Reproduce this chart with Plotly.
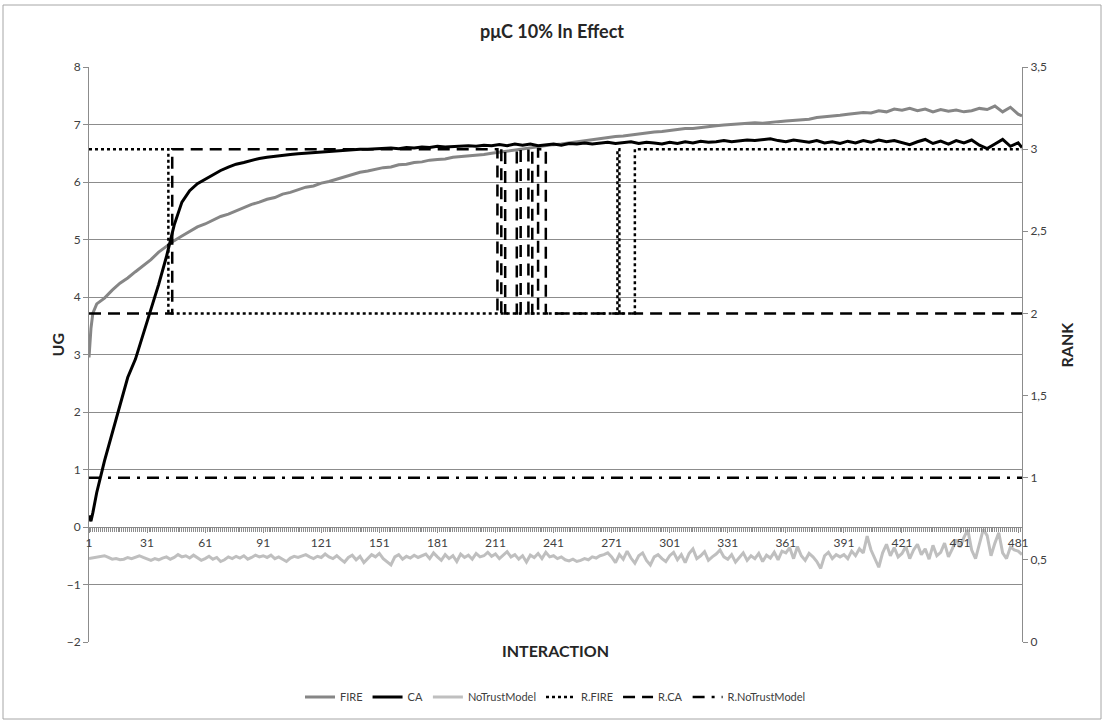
import plotly.graph_objects as go

# ---------------- data ----------------
title_text = "pμC 10% In Effect"
series_names = ["FIRE", "CA", "NoTrustModel", "R.FIRE", "R.CA", "R.NoTrustModel"]

# sample positions (interaction index) for FIRE and CA
ug_x = [1, 2, 3, 4] + list(range(5, 482, 4)) + [483]

fire_ug = [2.95, 3.45, 3.72, 3.82,
    3.88, 3.98, 4.12, 4.24, 4.33, 4.44, 4.55, 4.65, 4.78, 4.88,
    4.98, 5.06, 5.14, 5.22, 5.27, 5.33, 5.40, 5.44, 5.50, 5.56,
    5.61, 5.65, 5.70, 5.73, 5.79, 5.82, 5.86, 5.91, 5.93, 5.98,
    6.01, 6.05, 6.09, 6.12, 6.17, 6.19, 6.22, 6.25, 6.26, 6.30,
    6.31, 6.34, 6.35, 6.38, 6.39, 6.40, 6.43, 6.44, 6.45, 6.47,
    6.48, 6.50, 6.52, 6.54, 6.55, 6.58, 6.60, 6.61, 6.63, 6.65,
    6.66, 6.68, 6.70, 6.72, 6.73, 6.76, 6.77, 6.79, 6.80, 6.82,
    6.84, 6.85, 6.87, 6.88, 6.90, 6.91, 6.93, 6.93, 6.95, 6.96,
    6.98, 6.99, 7.00, 7.01, 7.01, 7.03, 7.02, 7.04, 7.05, 7.06,
    7.07, 7.09, 7.09, 7.12, 7.13, 7.15, 7.16, 7.18, 7.19, 7.21,
    7.20, 7.24, 7.22, 7.27, 7.25, 7.28, 7.24, 7.27, 7.22, 7.26,
    7.23, 7.25, 7.22, 7.24, 7.28, 7.26, 7.32, 7.22, 7.30, 7.18,
    7.15]

ca_ug = [0.20, 0.10, 0.25, 0.45,
    0.60, 1.15, 1.62, 2.12, 2.60, 2.92, 3.35, 3.78, 4.22, 4.70,
    5.25, 5.65, 5.85, 5.97, 6.05, 6.12, 6.20, 6.26, 6.31, 6.34,
    6.38, 6.41, 6.43, 6.45, 6.46, 6.48, 6.49, 6.50, 6.52, 6.53,
    6.54, 6.55, 6.55, 6.56, 6.57, 6.57, 6.58, 6.58, 6.59, 6.58,
    6.60, 6.59, 6.61, 6.60, 6.62, 6.61, 6.62, 6.62, 6.63, 6.62,
    6.64, 6.63, 6.65, 6.63, 6.66, 6.64, 6.66, 6.63, 6.65, 6.66,
    6.64, 6.67, 6.66, 6.68, 6.66, 6.67, 6.69, 6.67, 6.68, 6.70,
    6.67, 6.69, 6.68, 6.66, 6.69, 6.67, 6.70, 6.68, 6.71, 6.69,
    6.70, 6.72, 6.70, 6.71, 6.73, 6.72, 6.74, 6.75, 6.72, 6.70,
    6.73, 6.71, 6.69, 6.72, 6.68, 6.70, 6.67, 6.71, 6.68, 6.72,
    6.69, 6.73, 6.70, 6.72, 6.68, 6.65, 6.70, 6.74, 6.67, 6.71,
    6.66, 6.72, 6.68, 6.73, 6.64, 6.58, 6.66, 6.74, 6.62, 6.68,
    6.60]

# NoTrustModel sampled every 2 interactions (1, 3, ..., 483)
nt_x = list(range(1, 484, 2))
notrust_ug = [
    -0.55, -0.54, -0.53, -0.51, -0.50, -0.53, -0.56, -0.55, -0.57, -0.56, -0.53, -0.55, -0.52, -0.50, -0.53,
    -0.56, -0.58, -0.55, -0.57, -0.54, -0.52, -0.56, -0.53, -0.48, -0.52, -0.50, -0.54, -0.49, -0.53, -0.58,
    -0.55, -0.51, -0.56, -0.53, -0.60, -0.57, -0.52, -0.55, -0.51, -0.54, -0.50, -0.56, -0.53, -0.49, -0.52,
    -0.50, -0.53, -0.49, -0.55, -0.52, -0.56, -0.60, -0.54, -0.51, -0.53, -0.50, -0.48, -0.52, -0.55, -0.51,
    -0.53, -0.47, -0.52, -0.55, -0.50, -0.56, -0.61, -0.53, -0.49, -0.57, -0.51, -0.62, -0.54, -0.48, -0.52,
    -0.46, -0.55, -0.60, -0.66, -0.52, -0.48, -0.56, -0.51, -0.54, -0.49, -0.53, -0.50, -0.47, -0.55, -0.45,
    -0.52, -0.58, -0.48, -0.55, -0.50, -0.60, -0.47, -0.53, -0.49, -0.56, -0.46, -0.52, -0.50, -0.44, -0.51,
    -0.47, -0.55, -0.49, -0.43, -0.52, -0.48, -0.56, -0.50, -0.61, -0.49, -0.53, -0.46, -0.55, -0.44, -0.52,
    -0.50, -0.55, -0.52, -0.57, -0.59, -0.56, -0.60, -0.58, -0.55, -0.57, -0.52, -0.54, -0.50, -0.48, -0.45,
    -0.52, -0.62, -0.48, -0.56, -0.42, -0.54, -0.63, -0.50, -0.45, -0.58, -0.66, -0.52, -0.48, -0.55, -0.60,
    -0.50, -0.44, -0.57, -0.48, -0.62, -0.46, -0.38, -0.55, -0.50, -0.43, -0.58, -0.52, -0.47, -0.40, -0.52,
    -0.56, -0.48, -0.61, -0.52, -0.45, -0.58, -0.50, -0.55, -0.46, -0.60, -0.49, -0.54, -0.44, -0.57, -0.42,
    -0.45, -0.36, -0.55, -0.34, -0.50, -0.58, -0.46, -0.52, -0.60, -0.72, -0.50, -0.44, -0.55, -0.48, -0.52,
    -0.48, -0.55, -0.42, -0.50, -0.38, -0.45, -0.16, -0.40, -0.55, -0.70, -0.45, -0.30, -0.50, -0.36, -0.52,
    -0.46, -0.34, -0.55, -0.40, -0.30, -0.48, -0.38, -0.56, -0.32, -0.50, -0.44, -0.28, -0.52, -0.38, -0.22,
    -0.35, -0.18, -0.05, -0.40, -0.55, -0.30, -0.04, -0.15, -0.50, -0.28, -0.10, -0.45, -0.55, -0.35, -0.40,
    -0.42, -0.48]

# rank series: interaction where each run starts, and rank of the run
rfire_x = [1, 42, 274, 275, 283, 483]
rfire_rank = [3, 2, 3, 2, 3, 3]
rca_x = [1, 44, 212, 214, 216, 222, 224, 228, 230, 233, 237, 483]
rca_rank = [2, 3, 2, 3, 2, 3, 2, 3, 2, 3, 2, 2]
rnt_x = [1, 483]
rnt_rank = [1, 1]

ug_ticks = list(range(-2, 9))
rank_ticks = [0, 0.5, 1, 1.5, 2, 2.5, 3, 3.5]
rank_ticktext = ["0", "0,5", "1", "1,5", "2", "2,5", "3", "3,5"]

# ---------------- figure ----------------
FONT = "Lato, 'Open Sans', sans-serif"
AXC = "#8c8c8c"
TXT = "#404040"

fig = go.Figure()
fig.add_trace(go.Scatter(x=ug_x, y=fire_ug, name=series_names[0], mode="lines",
                         line=dict(color="#868686", width=3)))
fig.add_trace(go.Scatter(x=ug_x, y=ca_ug, name=series_names[1], mode="lines",
                         line=dict(color="#000000", width=3)))
fig.add_trace(go.Scatter(x=nt_x, y=notrust_ug, name=series_names[2], mode="lines",
                         line=dict(color="#bfbfbf", width=3)))
fig.add_trace(go.Scatter(x=rfire_x, y=rfire_rank, name=series_names[3], mode="lines", yaxis="y2",
                         line=dict(color="#000000", width=2.5, dash="3px,3px", shape="hv")))
fig.add_trace(go.Scatter(x=rca_x, y=rca_rank, name=series_names[4], mode="lines", yaxis="y2",
                         line=dict(color="#000000", width=2.5, dash="12px,7px", shape="hv")))
fig.add_trace(go.Scatter(x=rnt_x, y=rnt_rank, name=series_names[5], mode="lines", yaxis="y2",
                         line=dict(color="#000000", width=2.5, dash="12px,7px,3px,7px", shape="hv")))

W, H = 1104, 724
L, R, T, B = 89, 82, 67, 82
pw, ph = W - L - R, H - T - B

def px_x(p):
    return (p - L) / pw

def px_y(p):
    return (H - B - p) / ph

fig.update_layout(
    width=W, height=H,
    margin=dict(l=L, r=R, t=T, b=B),
    paper_bgcolor="white", plot_bgcolor="white",
    font=dict(family=FONT, size=12, color=TXT),
    title=dict(text="<b>" + title_text + "</b>", x=0.5, xanchor="center",
               y=1 - 32 / H, yanchor="middle",
               font=dict(family=FONT, size=18, color="#262626")),
    showlegend=True,
    legend=dict(orientation="h", x=0.5, xanchor="center", y=px_y(697), yanchor="middle",
                font=dict(family=FONT, size=11, color=TXT), itemwidth=30,
                traceorder="normal"),
    xaxis=dict(range=[1, 483], anchor="free", position=0.2,
               tickmode="linear", tick0=1, dtick=30,
               showline=True, linecolor=AXC, linewidth=1,
               ticks="outside", ticklen=5, tickcolor=AXC,
               minor=dict(ticks="outside", dtick=1, tick0=1, ticklen=4, tickcolor=AXC),
               showgrid=False, zeroline=False,
               tickfont=dict(family=FONT, size=12, color=TXT)),
    yaxis=dict(range=[-2, 8], tickvals=ug_ticks, showgrid=True, gridcolor=AXC, gridwidth=1,
               zeroline=False, showline=True, linecolor=AXC, ticks="outside", ticklen=5,
               tickcolor=AXC, tickfont=dict(family=FONT, size=12, color=TXT)),
    yaxis2=dict(range=[0, 3.5], overlaying="y", side="right", tickvals=rank_ticks,
                ticktext=rank_ticktext, showgrid=False, zeroline=False, showline=True,
                linecolor=AXC, ticks="outside", ticklen=5, tickcolor=AXC,
                tickfont=dict(family=FONT, size=12, color=TXT)),
    annotations=[
        dict(text="<b>UG</b>", x=px_x(45), y=px_y(345), xref="paper", yref="paper",
             showarrow=False, textangle=-90, font=dict(family=FONT, size=16, color="#262626")),
        dict(text="<b>RANK</b>", x=px_x(1077), y=px_y(345), xref="paper", yref="paper",
             showarrow=False, textangle=-90, font=dict(family=FONT, size=16, color="#262626")),
        dict(text="<b>INTERACTION</b>", x=px_x(555), y=px_y(662), xref="paper", yref="paper",
             showarrow=False, font=dict(family=FONT, size=16, color="#262626")),
    ],
    shapes=[dict(type="rect", xref="paper", yref="paper",
                 x0=px_x(3), x1=px_x(1101), y0=px_y(719), y1=px_y(5),
                 line=dict(color="#a6a6a6", width=1), layer="below")],
)

fig.write_html("out.html", config={"displayModeBar": False},
               post_script="document.body.style.margin='0px';")
